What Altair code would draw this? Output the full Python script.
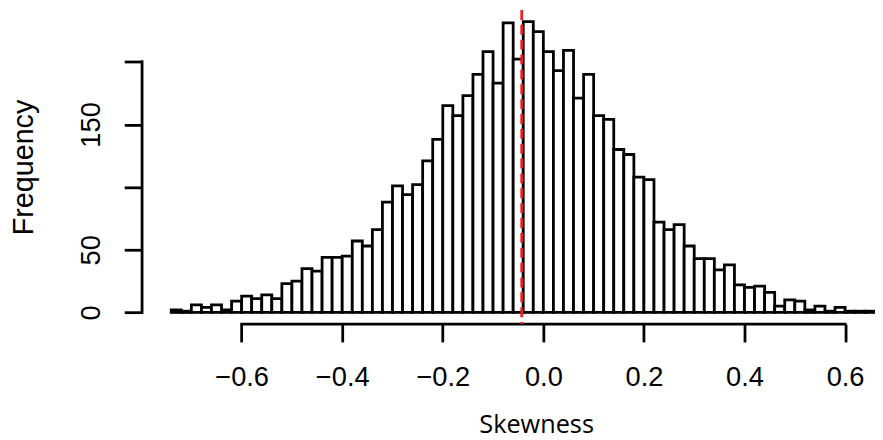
import altair as alt
import pandas as pd

# Histogram of skewness values (bin width 0.02, first bin starts at -0.74)
bin_start = -0.74
bin_width = 0.02
counts = [2, 1, 6, 4, 6, 2, 9, 13, 11, 14,
          11, 23, 25, 35, 33, 44, 44, 45, 57, 53,
          66, 88, 101, 94, 102, 121, 138, 165, 157, 173,
          190, 208, 183, 231, 202, 232, 224, 208, 193, 209,
          171, 190, 157, 154, 130, 126, 108, 106, 72, 66,
          70, 53, 43, 43, 34, 38, 22, 20, 21, 16,
          5, 10, 9, 2, 5, 1, 4, 1, 1, 1]
x_ticks = [-0.6, -0.4, -0.2, 0.0, 0.2, 0.4, 0.6]
y_ticks = [0, 50, 100, 150, 200]
y_labelled = [0, 50, 150]
mean_skew = -0.043

lo = [round(bin_start + i * bin_width, 4) for i in range(len(counts))]
df = pd.DataFrame({
    "lo": lo,
    "hi": [round(v + bin_width, 4) for v in lo],
    "base": [0] * len(counts),
    "count": counts,
})

W, H = 739.7, 317
xscale = alt.Scale(domain=[-0.798, 0.6595], nice=False, zero=False)
yscale = alt.Scale(domain=[-9.28, 241.3], nice=False, zero=False)

LW = 2.8
label_font = "Liberation Sans"

x_axis = alt.Axis(
    values=x_ticks, format=".1f", title="Skewness",
    domain=False, grid=False, ticks=True, tickSize=18, tickWidth=LW, tickColor="black",
    labelFont=label_font, labelFontSize=27.5, labelColor="black",
    labelBaseline="alphabetic", labelPadding=44, labelFlush=False, labelOverlap=False,
    titleFont="Open Sans", titleFontSize=25.5, titleFontWeight="normal", titleColor="black",
    titleX=397.7, titleY=109, titleAlign="center", titleBaseline="alphabetic",
)
lab_list = ",".join(str(v) for v in y_labelled)
y_axis = alt.Axis(
    values=y_ticks, title="Frequency",
    labelExpr=f"indexof([{lab_list}], datum.value) >= 0 ? datum.label : ''",
    domain=False, grid=False, ticks=True, tickSize=18, tickWidth=LW, tickColor="black",
    labelFont=label_font, labelFontSize=27.5, labelColor="black",
    labelAngle=-90, labelAlign="center", labelBaseline="alphabetic", labelPadding=25.3,
    labelFlush=False, labelOverlap=False,
    titleFont=label_font, titleFontSize=29, titleFontWeight="normal", titleColor="black",
    titleAngle=270, titleX=-110.8, titleY=158.5, titleAlign="center", titleBaseline="alphabetic",
)

bars = alt.Chart(df).mark_rect(
    fill="white", stroke="black", strokeWidth=LW, clip=True
).encode(
    x=alt.X("lo:Q", scale=xscale, axis=x_axis),
    x2="hi:Q",
    y=alt.Y("base:Q", scale=yscale, axis=y_axis),
    y2="count:Q",
)

# axis lines spanning only the tick range (R style)
yline = alt.Chart(pd.DataFrame({"a": [y_ticks[0]], "b": [y_ticks[-1]]})).mark_rule(
    color="black", strokeWidth=LW, strokeCap="square"
).encode(x=alt.value(0), y=alt.Y("a:Q", scale=yscale), y2="b:Q")

xline = alt.Chart(pd.DataFrame({"a": [x_ticks[0]], "b": [x_ticks[-1]]})).mark_rule(
    color="black", strokeWidth=LW, strokeCap="square"
).encode(y=alt.value(H), x=alt.X("a:Q", scale=xscale), x2="b:Q")

meanline = alt.Chart(pd.DataFrame({"m": [mean_skew]})).mark_rule(
    color="#ee1c25", strokeWidth=LW, strokeDash=[10, 5]
).encode(x=alt.X("m:Q", scale=xscale), y=alt.value(0), y2=alt.value(H))

chart = alt.layer(bars, yline, xline, meanline).properties(
    width=W, height=H,
    autosize=alt.AutoSizeParams(type="none"),
    padding={"left": 135.3, "top": 0, "right": 0, "bottom": 115},
).configure_view(stroke=None)

chart.save("out.html", embed_options={"renderer": "svg", "actions": False})
